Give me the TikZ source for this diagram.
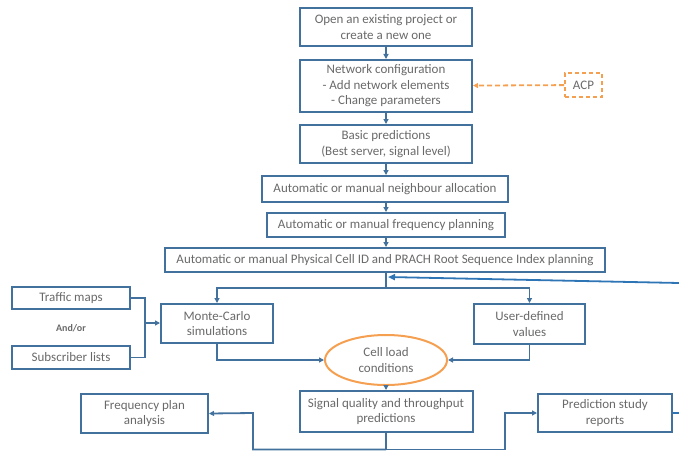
\documentclass[tikz,border=0pt]{standalone}
\usepackage{fontspec}
\setmainfont{Carlito}
\usetikzlibrary{arrows.meta,shapes.geometric}
\definecolor{boxline}{RGB}{65,113,156}
\definecolor{txtgray}{RGB}{105,105,105}
\definecolor{linkblue}{RGB}{46,117,182}
\definecolor{acporange}{RGB}{244,160,80}
\begin{document}
\begin{tikzpicture}[x=1pt,y=-1pt,
  every node/.style={font=\fontsize{13}{15.5}\selectfont, text=txtgray, align=center, inner sep=0pt},
  flowbox/.style={draw=boxline, line width=2pt, rectangle},
  conn/.style={draw=boxline, line width=1.8pt},
  arr/.style={conn, -{Triangle[length=5pt,width=5pt]}},
  bluearr/.style={draw=linkblue, line width=1.8pt, -{Triangle[length=7pt,width=6pt]}},
  acpbox/.style={draw=acporange, line width=2pt, dashed, dash pattern=on 4pt off 3pt, rectangle},
]
\useasboundingbox (0,0) rectangle (679,452);

% main chain of planning steps
\node[flowbox, minimum width=172pt, minimum height=38pt] (open) at (386,27) {Open an existing project or\\create a new one};
\node[flowbox, minimum width=172pt, minimum height=52pt] (net) at (386,86) {Network configuration\\- Add network elements\\- Change parameters};
\node[flowbox, minimum width=172pt, minimum height=38pt] (basic) at (386,144) {Basic predictions\\(Best server, signal level)};
\node[flowbox, minimum width=246pt, minimum height=26pt] (neigh) at (385,189) {Automatic or manual neighbour allocation};
\node[flowbox, minimum width=238pt, minimum height=24pt] (freq) at (386,225) {Automatic or manual frequency planning};
\node[flowbox, minimum width=440pt, minimum height=24pt] (prach) at (385,260) {Automatic or manual Physical Cell ID and PRACH Root Sequence Index planning};

% ACP input
\node[acpbox, minimum width=37pt, minimum height=24pt] (acp) at (583.5,85) {ACP};

% traffic inputs
\node[flowbox, minimum width=118pt, minimum height=22pt] (traf) at (71,298) {Traffic maps};
\node[flowbox, minimum width=118pt, minimum height=23pt] (subs) at (71,357.5) {Subscriber lists};
\node[font=\bfseries\fontsize{10}{11}\selectfont] (andor) at (71,328) {And/or};

% load sources
\node[flowbox, minimum width=112pt, minimum height=39pt] (mc) at (217,323.5) {Monte-Carlo\\simulations};
\node[flowbox, minimum width=111pt, minimum height=40pt] (user) at (529.5,324) {User-defined\\values};
\node[draw=acporange, line width=2pt, ellipse, minimum width=122pt, minimum height=50pt] (cell) at (386,360) {Cell load\\conditions};

% outputs
\node[flowbox, minimum width=173pt, minimum height=41pt] (sig) at (386,411.5) {Signal quality and throughput\\predictions};
\node[flowbox, minimum width=127pt, minimum height=39pt] (fpa) at (144.5,413.5) {Frequency plan\\analysis};
\node[flowbox, minimum width=134pt, minimum height=38pt] (psr) at (605,413) {Prediction study\\reports};

% junction points
\coordinate (j) at (386,288);
\coordinate (jin) at (388,277);
\coordinate (edgein) at (679,283);
\coordinate (merge) at (145,323);
\coordinate (bot) at (386,449.5);
\coordinate (bl) at (253,413);
\coordinate (br) at (505,413);
\coordinate (edgeout) at (679,413);

% connectors
\draw[arr] (open) -- (net);
\draw[arr] (net) -- (basic);
\draw[arr] (basic) -- (neigh.north -| basic);
\draw[arr] (neigh.south -| basic) -- (freq);
\draw[arr] (freq) -- (prach.north -| freq);
\draw[arr, draw=acporange, dashed, dash pattern=on 5pt off 3pt] (acp) -- (net);

\draw[conn] (prach.south -| j) -- (j);
\draw[arr] (j) -| (mc.north);
\draw[arr] (j) -| (user.north);
\draw[bluearr] (edgein) -- (jin);

\draw[conn] (traf.east) -| (merge);
\draw[conn] (subs.east) -| (merge);
\draw[arr] (merge) -- (mc.west |- merge);

\draw[arr] (mc.south) |- (cell.west);
\draw[arr] (user.south) |- (cell.east);
\draw[arr] (cell) -- (sig);

\draw[conn] (sig.south) -- (bot);
\draw[arr] (bot) -| (bl) -- (fpa.east);
\draw[arr] (bot) -| (br) -- (psr.west);
\draw[draw=linkblue, line width=1.8pt] (psr.east) -- (edgeout);
\end{tikzpicture}
\end{document}
